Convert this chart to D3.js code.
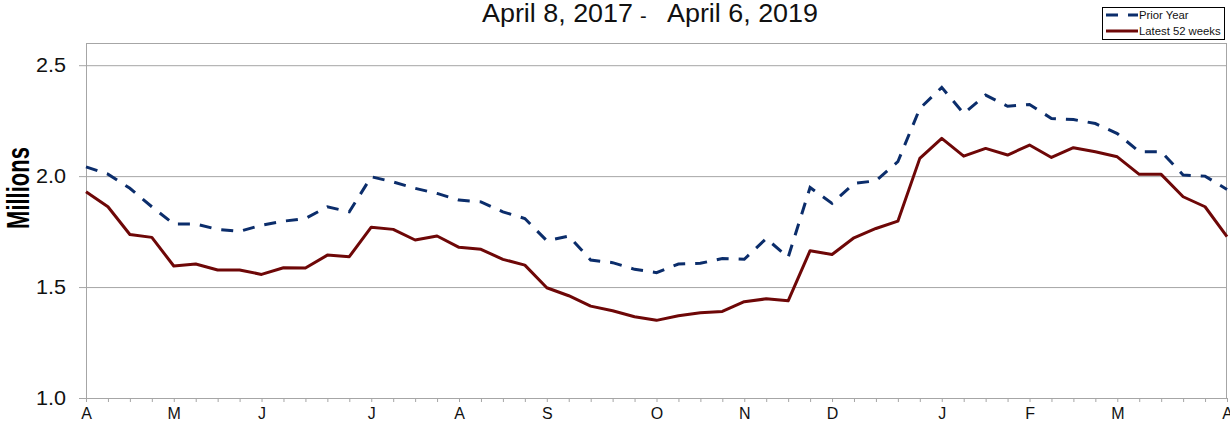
<!DOCTYPE html>
<html>
<head>
<meta charset="utf-8">
<script src="https://cdn.jsdelivr.net/npm/d3@7"></script>
<style>
  body { margin: 0; background: #fff; }
  svg { display: block; font-family: "Liberation Sans", Arial, sans-serif; }
</style>
</head>
<body>
<div class="chart"></div>
<script>
// weekly values in millions, week 0 = first week of April
const latest52 = [1.93, 1.862, 1.737, 1.724, 1.595, 1.604, 1.577, 1.577, 1.557, 1.587,
  1.586, 1.644, 1.637, 1.770, 1.760, 1.712, 1.730, 1.679, 1.670, 1.625,
  1.599, 1.497, 1.461, 1.414, 1.393, 1.366, 1.350, 1.371, 1.384, 1.390,
  1.434, 1.447, 1.438, 1.664, 1.647, 1.722, 1.764, 1.797, 2.080, 2.170,
  2.090, 2.125, 2.095, 2.140, 2.084, 2.128, 2.110, 2.087, 2.008, 2.008,
  1.907, 1.862, 1.727];
const priorYear = [2.042, 2.009, 1.945, 1.862, 1.784, 1.784, 1.760, 1.751, 1.779, 1.797,
  1.809, 1.862, 1.839, 1.997, 1.974, 1.945, 1.922, 1.892, 1.884, 1.839,
  1.809, 1.709, 1.730, 1.622, 1.610, 1.580, 1.565, 1.604, 1.607, 1.629,
  1.625, 1.719, 1.634, 1.949, 1.877, 1.967, 1.979, 2.065, 2.305, 2.400,
  2.282, 2.365, 2.315, 2.323, 2.260, 2.255, 2.237, 2.192, 2.110, 2.110,
  2.005, 2.000, 1.940];
const monthLabels = ['A', 'M', 'J', 'J', 'A', 'S', 'O', 'N', 'D', 'J', 'F', 'M', 'A'];
const monthWeeks = [0, 4, 8, 13, 17, 21, 26, 30, 34, 39, 43, 47, 52];
const yTicks = [1.0, 1.5, 2.0, 2.5];
const seriesNames = ['Prior Year', 'Latest 52 weeks'];

const svg_width = 1230, svg_height = 423;
const margin = {top: 43, right: 3, bottom: 25, left: 86};
const w = svg_width - margin.left - margin.right;
const h = svg_height - margin.top - margin.bottom;

const svg = d3.select('.chart').append('svg')
  .attr('width', svg_width).attr('height', svg_height);
const g = svg.append('g').attr('transform', `translate(${margin.left},${margin.top})`);

const xScale = d3.scaleLinear().domain([0, 52]).range([0, w]);
const yScale = d3.scaleLinear().domain([1.0, 2.6]).range([h, 0]);

// grid
g.append('g').attr('class', 'grid')
  .call(d3.axisLeft(yScale).tickValues(yTicks).tickSize(-w).tickFormat(''))
  .call(s => s.select('.domain').remove())
  .selectAll('line').attr('stroke', '#a6a6a6');

// frame
g.append('rect').attr('x', 0.5).attr('y', 0.5).attr('width', w - 1).attr('height', h)
  .attr('fill', 'none').attr('stroke', '#a6a6a6');

// y axis
const yAxis = g.append('g')
  .call(d3.axisLeft(yScale).tickValues(yTicks).tickSize(7).tickPadding(13).tickFormat(d3.format('.1f')));
yAxis.select('.domain').remove();
yAxis.selectAll('line').attr('stroke', '#a6a6a6');
yAxis.selectAll('text').attr('font-size', 20).attr('fill', '#111')
  .attr('textLength', 30).attr('lengthAdjust', 'spacingAndGlyphs');

// x axis - one tick per week
const xAxis = g.append('g').attr('transform', `translate(0,${h})`)
  .call(d3.axisBottom(xScale).tickValues(d3.range(53)).tickSize(4).tickPadding(6)
    .tickFormat(i => { const k = monthWeeks.indexOf(i); return k >= 0 ? monthLabels[k] : ''; }));
xAxis.select('.domain').remove();
xAxis.selectAll('line').attr('stroke', '#a6a6a6');
xAxis.selectAll('text').attr('font-size', 16).attr('fill', '#111');

const line = d3.line().x((d, i) => xScale(i)).y(d => yScale(d));

g.append('path').datum(priorYear)
  .attr('d', line).attr('fill', 'none')
  .attr('stroke', '#0b2d6b').attr('stroke-width', 3)
  .attr('stroke-dasharray', '12,10');

g.append('path').datum(latest52)
  .attr('d', line).attr('fill', 'none')
  .attr('stroke', '#6e0707').attr('stroke-width', 3)
  .attr('stroke-linejoin', 'round');

// title
svg.append('text').attr('x', 482).attr('y', 22).attr('font-size', 25)
  .attr('textLength', 151).attr('lengthAdjust', 'spacingAndGlyphs')
  .attr('fill', '#111').text('April 8, 2017');
svg.append('text').attr('x', 640).attr('y', 23).attr('font-size', 20)
  .attr('fill', '#111').text('-');
svg.append('text').attr('x', 667).attr('y', 22).attr('font-size', 25)
  .attr('textLength', 151).attr('lengthAdjust', 'spacingAndGlyphs')
  .attr('fill', '#111').text('April 6, 2019');

// y label
svg.append('text')
  .attr('transform', 'translate(29,188) rotate(-90) scale(1,1.4)')
  .attr('text-anchor', 'middle').attr('font-size', 22).attr('font-weight', 'bold')
  .attr('fill', '#000').text('Millions');

// legend
const legend = svg.append('g');
legend.append('rect').attr('x', 1102.5).attr('y', 7.5).attr('width', 122).attr('height', 32)
  .attr('fill', '#fff').attr('stroke', '#000');
const legendStyles = [
  {color: '#0b2d6b', dash: '12,10'},
  {color: '#6e0707', dash: null}
];
seriesNames.forEach((name, i) => {
  const yy = 15 + i * 16;
  legend.append('line').attr('x1', 1106).attr('x2', 1138).attr('y1', yy).attr('y2', yy)
    .attr('stroke', legendStyles[i].color).attr('stroke-width', 3)
    .attr('stroke-dasharray', legendStyles[i].dash);
  legend.append('text').attr('x', 1139).attr('y', yy + 4.3)
    .attr('font-size', 11.3).attr('fill', '#111').text(name);
});
</script>
</body>
</html>
